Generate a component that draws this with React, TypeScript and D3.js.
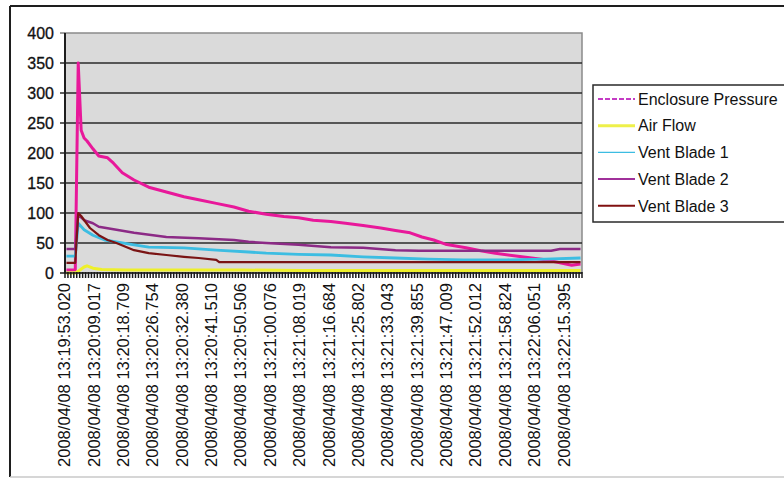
import { useMemo } from "react";
import * as d3 from "d3";

// category axis: one tick per sample, a label every 10 samples
const categoryCount = 176;
const labelEvery = 10;
const tickLabels = [
  "2008/04/08 13:19:53.020",
  "2008/04/08 13:20:09.017",
  "2008/04/08 13:20:18.709",
  "2008/04/08 13:20:26.754",
  "2008/04/08 13:20:32.380",
  "2008/04/08 13:20:41.510",
  "2008/04/08 13:20:50.506",
  "2008/04/08 13:21:00.076",
  "2008/04/08 13:21:08.019",
  "2008/04/08 13:21:16.684",
  "2008/04/08 13:21:25.802",
  "2008/04/08 13:21:33.043",
  "2008/04/08 13:21:39.855",
  "2008/04/08 13:21:47.009",
  "2008/04/08 13:21:52.012",
  "2008/04/08 13:21:58.824",
  "2008/04/08 13:22:06.051",
  "2008/04/08 13:22:15.395",
];
const yTicks = [0, 50, 100, 150, 200, 250, 300, 350, 400];

// [sample index, value]
const enclosurePressure: [number, number][] = [
  [0, 5], [3, 5], [4, 350], [5, 238], [6, 225], [7, 220], [9, 207], [11, 195],
  [14, 192], [16, 183], [19, 167], [23, 155], [28, 143], [34, 135], [40, 127],
  [45, 122], [51, 116], [57, 110], [62, 103], [68, 98], [74, 94], [79, 92],
  [84, 88], [90, 86], [95, 83], [101, 79], [107, 75], [112, 71], [117, 67],
  [121, 60], [125, 55], [129, 48], [136, 42], [141, 37], [146, 33], [155, 27],
  [163, 22], [168, 17], [172, 13], [175, 15],
];
const airFlow: [number, number][] = [
  [0, 0], [3, 0], [4, 3], [6, 10], [7, 12], [9, 8], [12, 6], [20, 5], [40, 5],
  [60, 5], [80, 4], [100, 4], [120, 4], [140, 4], [160, 4], [175, 4],
];
const ventBlade1: [number, number][] = [
  [0, 28], [3, 28], [4, 83], [6, 72], [9, 63], [13, 55], [17, 52], [23, 47],
  [28, 43], [40, 42], [51, 38], [62, 35], [68, 33], [79, 31], [90, 30],
  [101, 27], [112, 25], [123, 23], [135, 22], [150, 22], [163, 23], [175, 25],
];
const ventBlade2: [number, number][] = [
  [0, 40], [3, 40], [4, 97], [6, 88], [9, 83], [11, 77], [17, 72], [23, 67],
  [34, 60], [45, 58], [57, 55], [62, 52], [68, 50], [79, 47], [90, 43],
  [101, 42], [112, 38], [120, 37], [165, 37], [168, 40], [175, 40],
];
const ventBlade3: [number, number][] = [
  [0, 17], [3, 17], [4, 100], [5, 95], [8, 75], [11, 63], [14, 55], [17, 50],
  [23, 38], [28, 33], [34, 30], [40, 27], [45, 25], [51, 22], [52, 18],
  [100, 18], [175, 18],
];

const seriesNames = ["Enclosure Pressure", "Air Flow", "Vent Blade 1", "Vent Blade 2", "Vent Blade 3"];
const seriesData = [enclosurePressure, airFlow, ventBlade1, ventBlade2, ventBlade3];
const lineColors = ["#e8189a", "#eef02a", "#3cbde2", "#8c2a86", "#7a1414"];
const legendColors = ["#c43cc4", "#eef04a", "#3cbde2", "#a0309a", "#801010"];
const lineWidths = [3, 3, 2.8, 2.5, 2.2];

const W = 784;
const H = 480;
const plot = { left: 65, right: 582, top: 33, bottom: 273 };
const font = "'Liberation Sans', Arial, sans-serif";

export default function App() {
  const x = useMemo(
    () => d3.scaleLinear().domain([-0.5, categoryCount - 0.5]).range([plot.left, plot.right]),
    [],
  );
  const y = useMemo(() => d3.scaleLinear().domain([0, 400]).range([plot.bottom, plot.top]), []);
  const line = d3
    .line<[number, number]>()
    .x((d) => x(d[0]))
    .y((d) => y(d[1]));

  const ticks = d3.range(categoryCount + 1);

  return (
    <svg
      width={W}
      height={H}
      style={{ position: "absolute", left: 0, top: 0, background: "#fff" }}
      fontFamily={font}
    >
      <rect x={0} y={0} width={W} height={H} fill="#fff" />
      {/* chart frame: dark left/top, faint bottom */}
      <line x1={10} x2={W} y1={6} y2={6} stroke="#1e1e1e" strokeWidth={2} />
      <line x1={10} x2={10} y1={6} y2={477} stroke="#1e1e1e" strokeWidth={2} />
      <line x1={10} x2={W} y1={477} y2={477} stroke="#c8c8c8" strokeWidth={1.5} />

      {/* plot area */}
      <rect
        x={plot.left}
        y={plot.top}
        width={plot.right - plot.left}
        height={plot.bottom - plot.top}
        fill="#dadada"
        stroke="#8a8a8a"
        strokeWidth={1.5}
      />
      {yTicks.map((t) => (
        <line
          key={t}
          x1={plot.left - 5}
          x2={t === 0 || t === 400 ? plot.left : plot.right}
          y1={y(t)}
          y2={y(t)}
          stroke={t === 400 ? "#8a8a8a" : "#2a2a2a"}
          strokeWidth={1.6}
        />
      ))}

      {/* series */}
      {seriesData.map((s, i) => (
        <path
          key={seriesNames[i]}
          d={line(s) ?? ""}
          fill="none"
          stroke={lineColors[i]}
          strokeWidth={lineWidths[i]}
          strokeLinejoin="round"
        />
      ))}

      {/* axes */}
      <line x1={plot.left} x2={plot.left} y1={plot.top} y2={plot.bottom} stroke="#1e1e1e" strokeWidth={2} />
      <line x1={plot.left} x2={plot.right} y1={plot.bottom} y2={plot.bottom} stroke="#1e1e1e" strokeWidth={1.5} />
      {ticks.map((i) => (
        <line
          key={i}
          x1={x(i - 0.5)}
          x2={x(i - 0.5)}
          y1={plot.bottom - 1}
          y2={plot.bottom + 5}
          stroke="#1a1a1a"
          strokeWidth={1.5}
        />
      ))}

      {yTicks.map((t) => (
        <text
          key={t}
          x={54}
          y={y(t)}
          dy="0.36em"
          textAnchor="end"
          fontSize={16}
          fill="#111"
          stroke="#111"
          strokeWidth={0.3}
        >
          {t}
        </text>
      ))}

      {tickLabels.map((lab, k) => (
        <text
          key={lab}
          transform={`translate(${x(k * labelEvery) - 2},${plot.bottom + 10}) rotate(-90)`}
          dy="0.36em"
          textAnchor="end"
          fontSize={16}
          fill="#111"
          textLength={184}
          lengthAdjust="spacingAndGlyphs"
        >
          {lab}
        </text>
      ))}

      {/* legend */}
      <rect x={593} y={85} width={220} height={137} fill="#fff" stroke="#2a2a2a" strokeWidth={1.5} />
      {seriesNames.map((name, i) => {
        const ly = 99 + i * 26.7;
        return (
          <g key={name}>
            <line
              x1={598}
              x2={635}
              y1={ly}
              y2={ly}
              stroke={legendColors[i]}
              strokeWidth={i === 1 ? 3 : i === 2 ? 1.3 : 2}
              strokeDasharray={i === 0 ? "5,2" : undefined}
            />
            <text x={638} y={ly} dy="0.36em" fontSize={16} fill="#111">
              {name}
            </text>
          </g>
        );
      })}
    </svg>
  );
}
